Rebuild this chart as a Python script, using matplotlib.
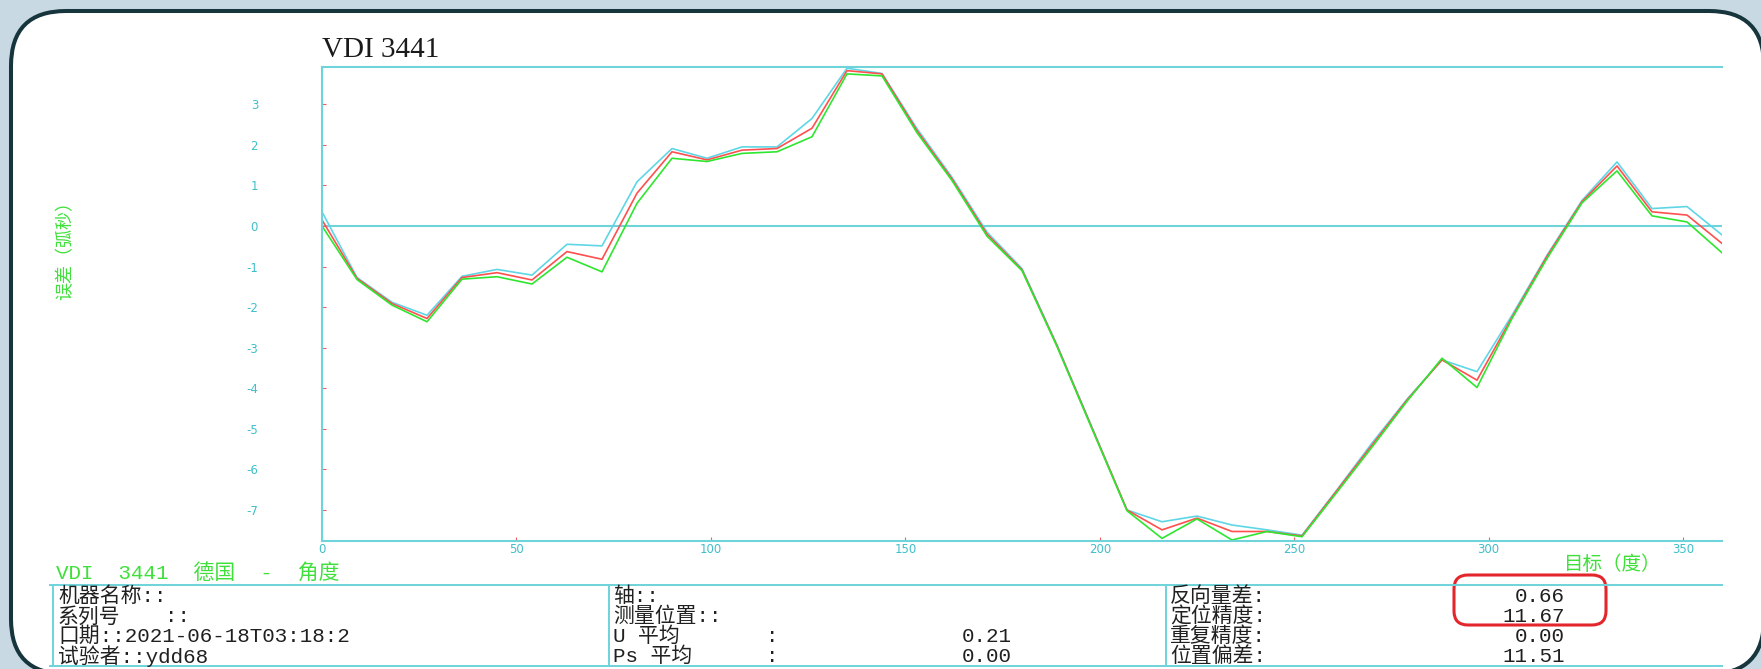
import matplotlib
matplotlib.use("Agg")
import matplotlib.pyplot as plt
from matplotlib.patches import FancyBboxPatch
from matplotlib.lines import Line2D

# ---- measurement data -------------------------------------------------
angles = [0, 9, 18, 27, 36, 45, 54, 63, 72, 81, 90, 99, 108, 117, 126, 135,
          144, 153, 162, 171, 180, 189, 198, 207, 216, 225, 234, 243, 252,
          261, 270, 279, 288, 297, 306, 315, 324, 333, 342, 351, 360]

err_forward = [0.35, -1.27, -1.88, -2.20, -1.24, -1.07, -1.21, -0.45, -0.49,
               1.09, 1.91, 1.67, 1.95, 1.95, 2.65, 3.89, 3.76, 2.40, 1.20,
               -0.15, -1.05, -2.93, -4.96, -7.00, -7.29, -7.15, -7.37, -7.49,
               -7.62, -6.50, -5.35, -4.27, -3.30, -3.59, -2.20, -0.72, 0.63,
               1.58, 0.43, 0.48, -0.22]

err_mean = [0.15, -1.29, -1.91, -2.28, -1.27, -1.15, -1.33, -0.63, -0.82,
            0.81, 1.83, 1.63, 1.87, 1.91, 2.41, 3.83, 3.75, 2.35, 1.16,
            -0.20, -1.08, -2.95, -4.98, -7.00, -7.49, -7.20, -7.53, -7.53,
            -7.64, -6.52, -5.40, -4.29, -3.30, -3.80, -2.25, -0.75, 0.60,
            1.48, 0.35, 0.27, -0.43]

err_reverse = [0.00, -1.32, -1.95, -2.36, -1.31, -1.25, -1.43, -0.77, -1.13,
               0.56, 1.67, 1.59, 1.79, 1.83, 2.20, 3.75, 3.70, 2.30, 1.12,
               -0.25, -1.10, -2.97, -5.00, -7.02, -7.70, -7.22, -7.74, -7.53,
               -7.66, -6.56, -5.45, -4.32, -3.26, -3.98, -2.28, -0.80, 0.57,
               1.36, 0.25, 0.10, -0.66]

x_ticks = [0, 50, 100, 150, 200, 250, 300, 350]
y_ticks = [-7, -6, -5, -4, -3, -2, -1, 0, 1, 2, 3]

info_left = ["机器名称::", "系列号", "口期::2021-06-18T03:18:2", "试验者::ydd68"]
info_mid = ["轴::", "测量位置::", "U 平均", "Ps 平均"]
info_mid_values = ["", "", "0.21", "0.00"]
info_right = ["反向量差:", "定位精度:", "重复精度:", "位置偏差:"]
info_right_values = ["0.66", "11.67", "0.00", "11.51"]

# ---- styling ----------------------------------------------------------
W, H = 1761, 669
BG = "#c8d9e4"
FRAME = "#6fd3da"
TICKTXT = "#3fbfca"
GREEN = "#3fe03a"
CJK = ["Liberation Mono", "Noto Sans CJK SC"]

fig = plt.figure(figsize=(W / 100, H / 100), dpi=100, facecolor=BG)

# Pixel-space canvas for the panel, headers and the info table
bg = fig.add_axes([0, 0, 1, 1])
bg.set_xlim(0, W)
bg.set_ylim(H, 0)
bg.axis("off")

panel = FancyBboxPatch((11, 11), 1753, 663,
                       boxstyle="round,pad=0,rounding_size=55",
                       facecolor="white", edgecolor="#17353c", linewidth=2.9)
bg.add_patch(panel)

bg.text(322, 57, "VDI 3441", family="Liberation Serif", fontsize=21,
        color="#1a1a1a", ha="left", va="baseline")

bg.text(66, 246, "误差（弧秒）", family=CJK, fontsize=13, color=GREEN,
        rotation=90, ha="center", va="center")

bg.text(1564, 565, "目标（度）", family=CJK, fontsize=14, color=GREEN,
        ha="left", va="center")

bg.text(56, 574, "VDI  3441  德国  -  角度", family=CJK, fontsize=15,
        color=GREEN, ha="left", va="center")

# info table frame
for y in (585, 666):
    bg.add_line(Line2D([50, 1722], [y, y], color=FRAME, lw=1.4))
for x in (53, 609, 1166):
    bg.add_line(Line2D([x, x], [585, 666], color=FRAME, lw=1.4))

rows_y = [596, 616.5, 636.5, 656]
txt_kw = dict(family=CJK, fontsize=15, color="#202020", va="center")
for i, y in enumerate(rows_y):
    bg.text(58, y, info_left[i], ha="left", **txt_kw)
    bg.text(613, y, info_mid[i], ha="left", **txt_kw)
    if info_mid_values[i]:
        bg.text(766, y, ":", ha="left", **txt_kw)
        bg.text(1012, y, info_mid_values[i], ha="right", **txt_kw)
    bg.text(1170, y, info_right[i], ha="left", **txt_kw)
    bg.text(1565, y, info_right_values[i], ha="right", **txt_kw)
bg.text(140, rows_y[1], "  ::", ha="left", **txt_kw)

bg.add_patch(FancyBboxPatch((1454, 575), 152, 50,
                            boxstyle="round,pad=0,rounding_size=14",
                            facecolor="none", edgecolor="#e3262c",
                            linewidth=2.2))

# ---- error curve plot -------------------------------------------------
ax = fig.add_axes([322 / W, 1 - 540.7 / H, (1722 - 322) / W, (540.7 - 66.7) / H])
ax.set_facecolor("none")
ax.plot(angles, err_forward, color="#5fd6e6", lw=1.2)
ax.plot(angles, err_mean, color="#ff4f4f", lw=1.2)
ax.plot(angles, err_reverse, color="#2fe62f", lw=1.2)
ax.axhline(0, color=FRAME, lw=1.5, zorder=0)

ax.set_xlim(0, 360)
ax.set_ylim(-7.757, 3.927)
ax.set_xticks(x_ticks)
ax.set_yticks(y_ticks)
ax.set_xticklabels([str(v) for v in x_ticks])
ax.set_yticklabels([str(v) for v in y_ticks])

for side in ("left", "top", "bottom"):
    ax.spines[side].set_color(FRAME)
    ax.spines[side].set_linewidth(1.5)
ax.spines["right"].set_visible(False)

ax.tick_params(axis="both", direction="in", length=3, width=0.8,
               color="#ff5a5a", labelcolor=TICKTXT, labelsize=8.5)
ax.tick_params(axis="y", pad=46)
ax.tick_params(axis="x", pad=2)

fig.savefig("out.png", dpi=100, facecolor=BG)
